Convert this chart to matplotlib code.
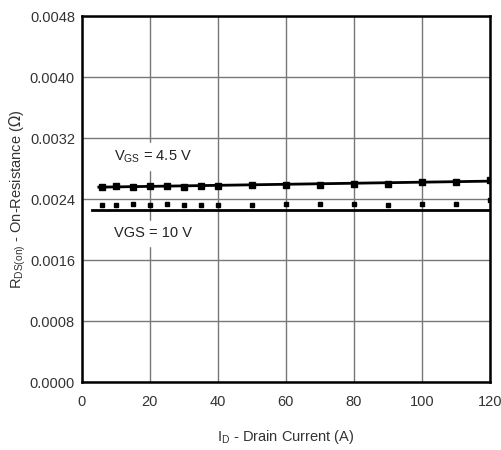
import matplotlib
matplotlib.use("Agg")
import matplotlib.pyplot as plt

plt.rcParams["font.family"] = ["Liberation Sans", "DejaVu Sans"]

current = [6, 10, 15, 20, 25, 30, 35, 40, 50, 60, 70, 80, 90, 100, 110, 120]
r_vgs45 = [0.00256, 0.00257, 0.00256, 0.00257, 0.00257, 0.00256, 0.00257, 0.00257,
           0.00258, 0.00259, 0.00259, 0.00260, 0.00260, 0.00262, 0.00263, 0.00265]
r_vgs10 = [0.00232, 0.00232, 0.00233, 0.00232, 0.00233, 0.00232, 0.00232, 0.00232,
           0.00232, 0.00233, 0.00233, 0.00233, 0.00232, 0.00233, 0.00233, 0.00239]
fit_x45 = [5, 120]
fit_y45 = [0.002557, 0.002636]
fit_x10 = [3, 120]
fit_y10 = [0.002256, 0.002256]

x_ticks = [0, 20, 40, 60, 80, 100, 120]
y_ticks = [0.0, 0.0008, 0.0016, 0.0024, 0.0032, 0.0040, 0.0048]

fig = plt.figure(figsize=(5.02, 4.5), dpi=100)
ax = fig.add_axes([0.163, 0.151, 0.813, 0.813])

ax.plot(fit_x45, fit_y45, color="black", linewidth=2.0, zorder=3)
ax.plot(fit_x10, fit_y10, color="black", linewidth=2.0, zorder=3)
ax.plot(current, r_vgs45, "s", color="black", markersize=4, zorder=4)
ax.plot(current, r_vgs10, "s", color="black", markersize=3.5, zorder=4)

ax.set_xlim(0, 120)
ax.set_ylim(0, 0.0048)
ax.set_xticks(x_ticks)
ax.set_yticks(y_ticks)
ax.set_yticklabels([f"{v:.4f}" for v in y_ticks])
ax.grid(True, color="#777777", linewidth=1.0)
ax.set_axisbelow(True)
ax.tick_params(length=0, labelsize=10.5, labelcolor="#333333")
ax.tick_params(axis="y", pad=5)
ax.tick_params(axis="x", pad=9)
for s in ax.spines.values():
    s.set_linewidth(1.8)

ax.text(9.4, 0.00291, r"V$_{\mathregular{GS}}$ = 4.5 V", fontsize=10.5, color="#222222",
        va="baseline", backgroundcolor="white", zorder=5)
ax.text(9.4, 0.0019, "VGS = 10 V", fontsize=10.5, color="#222222",
        va="baseline", backgroundcolor="white", zorder=5)

ax.set_xlabel(r"I$_{\mathregular{D}}$ - Drain Current (A)", fontsize=10.5, color="#333333",
              labelpad=14)
ax.set_ylabel(r"R$_{\mathregular{DS(on)}}$ - On-Resistance ($\Omega$)", fontsize=10.5,
              color="#333333", labelpad=1)

fig.savefig("out.png", dpi=100, facecolor="white")
